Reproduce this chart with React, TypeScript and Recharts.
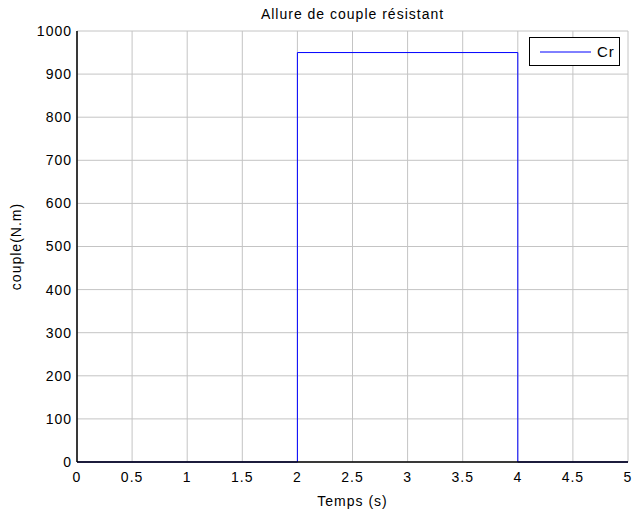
import React from "react";
import {
  LineChart,
  Line,
  XAxis,
  YAxis,
  CartesianGrid,
} from "recharts";

// Step profile of the load torque
const timeValues = [0, 2, 4, 5];
const torqueValues = [0, 950, 0, 0];
const xTicks = [0, 0.5, 1, 1.5, 2, 2.5, 3, 3.5, 4, 4.5, 5];
const yTicks = [0, 100, 200, 300, 400, 500, 600, 700, 800, 900, 1000];

const data = timeValues.map((t, i) => ({ t, Cr: torqueValues[i] }));

const FONT = "'Liberation Sans', Arial, sans-serif";
const textStyle = { fill: "#000", fontSize: 14, fontFamily: FONT, letterSpacing: 1 };

// legend drawn as an overlay so it doesn't eat plot space
const LegendBox = () => (
  <div
    style={{
      position: "absolute",
      left: 529,
      top: 37,
      width: 89,
      height: 27,
      border: "1px solid #000",
      background: "#fff",
      display: "flex",
      alignItems: "center",
      fontFamily: FONT,
      fontSize: 15,
      letterSpacing: 1,
    }}
  >
    <svg width={62} height={10}>
      <line x1={10} y1={5} x2={61} y2={5} stroke="#0000ff" strokeWidth={1} />
    </svg>
    <span style={{ marginLeft: 5 }}>Cr</span>
  </div>
);

const App = () => {
  return (
    <div style={{ position: "absolute", left: 0, top: 0, width: 634, height: 512, background: "#fff" }}>
      <div
        style={{
          position: "absolute",
          left: 77,
          width: 551,
          top: 6,
          textAlign: "center",
          fontFamily: FONT,
          fontSize: 14,
          letterSpacing: 1,
          color: "#000",
        }}
      >
        Allure de couple résistant
      </div>
      <LineChart
        width={634}
        height={512}
        data={data}
        margin={{ top: 31, right: 6, bottom: 0, left: 0 }}
      >
        <CartesianGrid stroke="#c4c4c4" strokeWidth={1} />
        <XAxis
          dataKey="t"
          type="number"
          domain={[0, 5]}
          ticks={xTicks}
          height={50}
          tickSize={0}
          tickMargin={10}
          axisLine={{ stroke: "#000", strokeWidth: 1.5 }}
          tick={textStyle}
          label={{
            value: "Temps (s)",
            position: "insideBottom",
            offset: 6,
            ...textStyle,
          }}
        />
        <XAxis
          xAxisId="top"
          orientation="top"
          dataKey="t"
          type="number"
          domain={[0, 5]}
          height={0}
          tick={false}
          tickLine={false}
          axisLine={{ stroke: "#000", strokeWidth: 1.5 }}
        />
        <YAxis
          type="number"
          domain={[0, 1000]}
          ticks={yTicks}
          width={77}
          tickSize={0}
          tickMargin={5}
          axisLine={{ stroke: "#000", strokeWidth: 1.5 }}
          tick={textStyle}
          label={{
            value: "couple(N.m)",
            angle: -90,
            position: "insideLeft",
            offset: 16,
            style: { textAnchor: "middle" },
            ...textStyle,
          }}
        />
        <YAxis
          yAxisId="right"
          orientation="right"
          type="number"
          domain={[0, 1000]}
          width={0}
          tick={false}
          tickLine={false}
          axisLine={{ stroke: "#000", strokeWidth: 1.5 }}
        />
        <Line
          type="stepAfter"
          dataKey="Cr"
          stroke="#0000ff"
          strokeWidth={1}
          dot={false}
          isAnimationActive={false}
        />
      </LineChart>
      <LegendBox />
    </div>
  );
};

export default App;
